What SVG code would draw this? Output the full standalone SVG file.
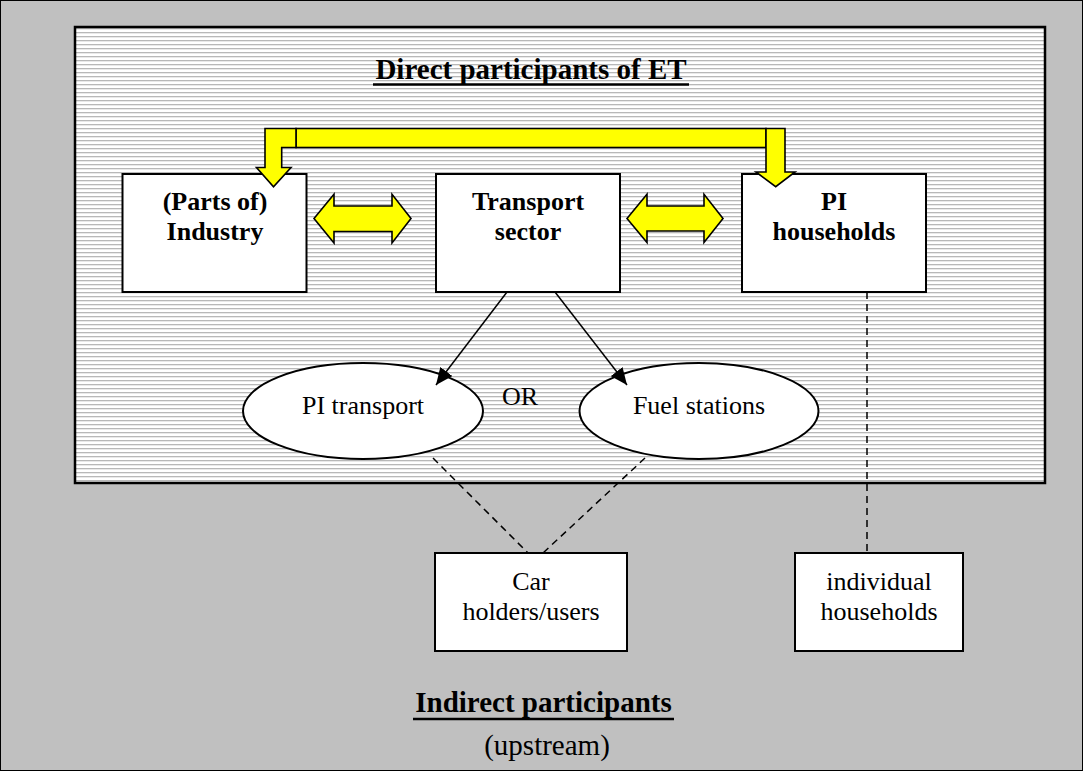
<svg xmlns="http://www.w3.org/2000/svg" width="1083" height="771" viewBox="0 0 1083 771">
<defs>
<pattern id="hatch" x="0" y="0" width="8" height="4" patternUnits="userSpaceOnUse">
<rect x="0" y="0" width="8" height="4" fill="#ffffff"/>
<rect x="0" y="0" width="8" height="1.3" fill="#b8b8b8"/>
</pattern>
<marker id="arr" viewBox="0 0 10 10" refX="10" refY="5" markerWidth="17" markerHeight="15" markerUnits="userSpaceOnUse" orient="auto" preserveAspectRatio="none">
<path d="M0,0 L10,5 L0,10 z" fill="#000"/>
</marker>
<style>
.box{fill:#fff;stroke:#000;stroke-width:2}
.yel{fill:#ffff00;stroke:#000;stroke-width:1.6;stroke-linejoin:miter}
text{font-family:'Liberation Serif','Times New Roman','DejaVu Serif',serif;fill:#000;text-anchor:middle}
.bt{font-weight:bold;font-size:26px}
.rt{font-weight:normal;font-size:26px}
.tt{font-weight:bold;font-size:29px}
.ut{font-weight:normal;font-size:29px}
.ln{stroke:#000;stroke-width:1.5;fill:none}
.dash{stroke:#000;stroke-width:1.5;fill:none;stroke-dasharray:7 5}
</style>
</defs>
<rect x="0.5" y="0.5" width="1082" height="770" fill="#c0c0c0" stroke="#000" stroke-width="1"/>
<g id="direct-area">
<rect x="75" y="27" width="970" height="456" fill="url(#hatch)" stroke="#000" stroke-width="2.5"/>
<text class="tt" x="531" y="79" font-family="Liberation Serif, Times New Roman, serif">Direct participants of ET</text>
<line x1="373" y1="84.5" x2="689" y2="84.5" stroke="#000" stroke-width="2.7"/>
</g>
<g id="industry">
<rect class="box" x="122.5" y="174" width="184" height="118"/>
<text class="bt" x="215" y="210" font-family="Liberation Serif, Times New Roman, serif">(Parts of)</text>
<text class="bt" x="215" y="240" font-family="Liberation Serif, Times New Roman, serif">Industry</text>
</g>
<g id="transport">
<rect class="box" x="436" y="174" width="184" height="118"/>
<text class="bt" x="528" y="210" font-family="Liberation Serif, Times New Roman, serif">Transport</text>
<text class="bt" x="528" y="240" font-family="Liberation Serif, Times New Roman, serif">sector</text>
</g>
<g id="pi-households">
<rect class="box" x="742" y="174" width="184" height="118"/>
<text class="bt" x="834" y="210" font-family="Liberation Serif, Times New Roman, serif">PI</text>
<text class="bt" x="834" y="240" font-family="Liberation Serif, Times New Roman, serif">households</text>
</g>
<g id="yellow-arrows">
<rect class="yel" x="296" y="128.5" width="470" height="19"/>
<path class="yel" d="M265,128.5 L296,128.5 L296,147.5 L281.7,147.5 L281.7,167.5 L291,167.5 L273.5,186.7 L256.5,167.5 L265,167.5 Z"/>
<path class="yel" d="M766,128.5 L785,128.5 L785,172 L795,172 L775.7,186.7 L756,172 L766,172 Z"/>
<path class="yel" d="M314,218.5 L334,194.3 L334,206 L392,206 L392,194.3 L411,218.5 L392,243 L392,231.5 L334,231.5 L334,243 Z"/>
<path class="yel" d="M627,218.5 L647,194.3 L647,206 L704,206 L704,194.3 L723,218.5 L704,242.5 L704,231 L647,231 L647,242.5 Z"/>
</g>
<g id="pi-transport">
<ellipse cx="363" cy="411" rx="120" ry="48" fill="#fff" stroke="#000" stroke-width="2"/>
<text class="rt" x="363" y="414" font-family="Liberation Serif, Times New Roman, serif">PI transport</text>
</g>
<g id="fuel-stations">
<ellipse cx="699" cy="411" rx="119.5" ry="48" fill="#fff" stroke="#000" stroke-width="2"/>
<text class="rt" x="699" y="414" font-family="Liberation Serif, Times New Roman, serif">Fuel stations</text>
</g>
<text class="rt" x="520" y="405" font-family="Liberation Serif, Times New Roman, serif">OR</text>
<g id="car-holders">
<rect class="box" x="435" y="553" width="192" height="98"/>
<text class="rt" x="531" y="590" font-family="Liberation Serif, Times New Roman, serif">Car</text>
<text class="rt" x="531" y="620" font-family="Liberation Serif, Times New Roman, serif">holders/users</text>
</g>
<g id="individual-households">
<rect class="box" x="795" y="553" width="168" height="98"/>
<text class="rt" x="879" y="590" font-family="Liberation Serif, Times New Roman, serif">individual</text>
<text class="rt" x="879" y="620" font-family="Liberation Serif, Times New Roman, serif">households</text>
</g>
<g id="connectors">
<line class="ln" x1="507" y1="292" x2="436" y2="385" marker-end="url(#arr)"/>
<line class="ln" x1="555" y1="292" x2="627" y2="385" marker-end="url(#arr)"/>
<line class="dash" x1="433" y1="458" x2="528" y2="553"/>
<line class="dash" x1="645" y1="458" x2="543" y2="553"/>
<line class="dash" x1="867" y1="292" x2="867" y2="553"/>
</g>
<g id="indirect-label">
<text class="tt" x="543.5" y="712" font-family="Liberation Serif, Times New Roman, serif">Indirect participants</text>
<line x1="413" y1="719" x2="674" y2="719" stroke="#000" stroke-width="2.7"/>
<text class="ut" x="547" y="755" font-family="Liberation Serif, Times New Roman, serif">(upstream)</text>
</g>
</svg>
